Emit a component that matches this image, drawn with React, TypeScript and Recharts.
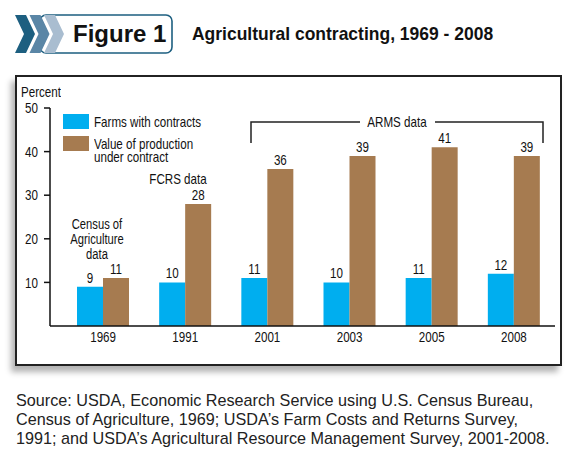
import React from 'react';
import { BarChart, Bar, XAxis, YAxis, Legend, LabelList } from 'recharts';

const years = ['1969', '1991', '2001', '2003', '2005', '2008'];
const farmsWithContracts = [9, 10, 11, 10, 11, 12];
const valueUnderContract = [11, 28, 36, 39, 41, 39];
const yTicks = [10, 20, 30, 40, 50];

const data = years.map((year, i) => ({
  year,
  farms: farmsWithContracts[i],
  value: valueUnderContract[i],
}));

// no Arial Narrow here, so squeeze Liberation Sans instead
const SANS = "'Liberation Sans', Arial, Helvetica, sans-serif";
const SQ = 0.8;
const FS = 14.5;
const BLUE = '#00aeef';
const BROWN = '#a67b50';

const Narrow: React.FC<{ children: React.ReactNode; origin?: string; style?: React.CSSProperties }> = ({ children, origin = 'left top', style }) => (
  <div
    style={{
      fontFamily: SANS,
      fontSize: FS,
      color: '#111',
      transform: `scaleX(${SQ})`,
      transformOrigin: origin,
      ...style,
    }}
  >
    {children}
  </div>
);

const SvgNarrow = (props: any) => {
  const { x, y, payload, textAnchor, verticalAnchor } = props;
  const dy = verticalAnchor === 'start' ? '0.71em' : '0.355em';
  return (
    <text
      transform={`translate(${x},${y}) scale(${SQ},1)`}
      textAnchor={textAnchor}
      dy={dy}
      fontFamily={SANS}
      fontSize={FS}
      fill="#111"
    >
      {payload.value}
    </text>
  );
};

const BarValue = (props: any) => {
  const { x, y, width, value } = props;
  return (
    <text
      transform={`translate(${x + width / 2},${y - 4}) scale(${SQ},1)`}
      textAnchor="middle"
      fontFamily={SANS}
      fontSize={FS}
      fill="#111"
    >
      {value}
    </text>
  );
};

const LegendBox = (props: any) => (
  <div>
    {(props.payload || []).map((entry: any) => (
      <div key={entry.value} style={{ display: 'flex', alignItems: 'flex-start', marginBottom: 7 }}>
        <div style={{ width: 26, height: 15, background: entry.color, flexShrink: 0 }} />
        <Narrow style={{ marginLeft: 5, width: 140, lineHeight: '13px', marginTop: 1.5 }}>{entry.value}</Narrow>
      </div>
    ))}
  </div>
);

const Chevrons = () => (
  <svg width={180} height={60} style={{ position: 'absolute', left: 0, top: 0 }}>
    <rect x={40} y={15} width={132} height={38} rx={6} fill="#fff" stroke="#1d5f80" strokeWidth={1.6} />
    {[
      { x: 15, c: '#1d5f80' },
      { x: 29.5, c: '#5a86a6' },
      { x: 44, c: '#a9bdd0' },
    ].map((s) => (
      <polygon
        key={s.x}
        fill={s.c}
        points={`${s.x},15 ${s.x + 11},15 ${s.x + 20},34 ${s.x + 11},53 ${s.x},53 ${s.x + 9},34`}
      />
    ))}
  </svg>
);

export default function App() {
  return (
    <div style={{ position: 'absolute', left: 0, top: 0, width: 575, height: 460, background: '#fff', overflow: 'hidden' }}>
      <Chevrons />
      <div style={{ position: 'absolute', left: 73, top: 20, fontFamily: SANS, fontWeight: 'bold', fontSize: 24, color: '#111' }}>
        Figure 1
      </div>
      <div
        style={{
          position: 'absolute',
          left: 192,
          top: 23,
          fontFamily: SANS,
          fontWeight: 'bold',
          fontSize: 19,
          color: '#111',
          whiteSpace: 'nowrap',
          transform: 'scaleX(0.92)',
          transformOrigin: 'left top',
        }}
      >
        Agricultural contracting, 1969 - 2008
      </div>

      {/* framed chart area */}
      <div
        style={{
          position: 'absolute',
          left: 15,
          top: 75,
          width: 543,
          height: 287,
          border: '2px solid #222',
          boxShadow: '-4px 6px 6px rgba(0,0,0,0.3)',
          background: '#fff',
        }}
      />

      <div style={{ position: 'absolute', left: 0, top: 0 }}>
        <BarChart width={575} height={460} data={data} barGap={0} barSize={26} margin={{ top: 108, right: 20, bottom: 104, left: 0 }}>
          <XAxis
            dataKey="year"
            height={30}
            tickLine={false}
            axisLine={{ stroke: '#111', strokeWidth: 1.5 }}
            tick={<SvgNarrow />}
            padding={{ left: 12, right: 0 }}
            tickMargin={0}
          />
          <YAxis
            width={50}
            domain={[0, 50]}
            ticks={yTicks}
            tickSize={6}
            tickMargin={6}
            axisLine={{ stroke: '#111', strokeWidth: 1.5 }}
            tickLine={{ stroke: '#111', strokeWidth: 1.5 }}
            tick={<SvgNarrow />}
          />
          <Legend
            layout="vertical"
            align="center"
            verticalAlign="middle"
            content={<LegendBox />}
            wrapperStyle={{ left: 63, top: 114, width: 180 }}
          />
          <Bar dataKey="farms" name="Farms with contracts" fill={BLUE} isAnimationActive={false}>
            <LabelList dataKey="farms" content={<BarValue />} />
          </Bar>
          <Bar dataKey="value" name="Value of production under contract" fill={BROWN} isAnimationActive={false}>
            <LabelList dataKey="value" content={<BarValue />} />
          </Bar>
        </BarChart>
      </div>

      {/* annotations */}
      <Narrow style={{ position: 'absolute', left: 21, top: 86, lineHeight: '13px' }}>Percent</Narrow>
      <Narrow
        origin="center top"
        style={{ position: 'absolute', left: 47, top: 217, width: 100, textAlign: 'center', fontSize: 14, lineHeight: '15px' }}
      >
        Census of
        <br />
        Agriculture
        <br />
        data
      </Narrow>
      <Narrow origin="center top" style={{ position: 'absolute', left: 128, top: 171, width: 100, textAlign: 'center' }}>
        FCRS data
      </Narrow>
      <svg width={575} height={460} style={{ position: 'absolute', left: 0, top: 0, pointerEvents: 'none' }}>
        <polyline points="251,143 251,122 360,122" fill="none" stroke="#222" strokeWidth={1.5} />
        <polyline points="435,122 543,122 543,143" fill="none" stroke="#222" strokeWidth={1.5} />
        <text
          transform={`translate(397,122) scale(${SQ},1)`}
          dy="0.35em"
          textAnchor="middle"
          fontFamily={SANS}
          fontSize={FS}
          fill="#111"
        >
          ARMS data
        </text>
      </svg>

      <div
        style={{
          position: 'absolute',
          left: 16,
          top: 391,
          fontFamily: SANS,
          fontSize: 16.2,
          lineHeight: '19px',
          color: '#222',
          whiteSpace: 'nowrap',
        }}
      >
        Source: USDA, Economic Research Service using U.S. Census Bureau,
        <br />
        Census of Agriculture, 1969; USDA’s Farm Costs and Returns Survey,
        <br />
        1991; and USDA’s Agricultural Resource Management Survey, 2001-2008.
      </div>
    </div>
  );
}
